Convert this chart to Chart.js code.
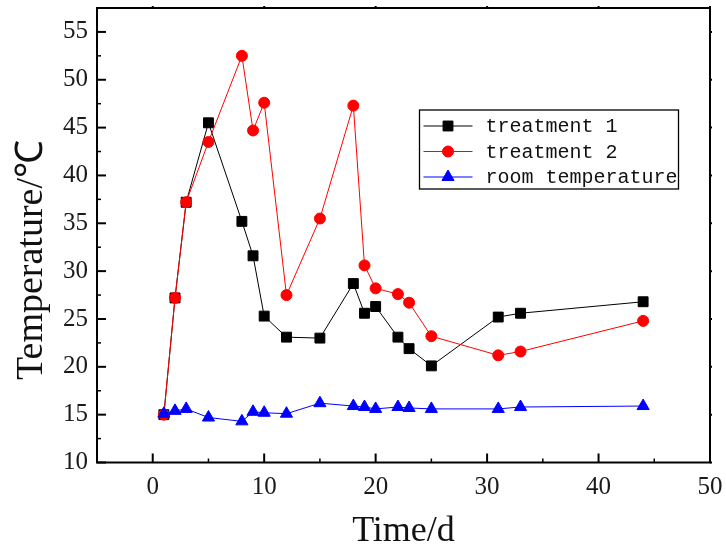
<!DOCTYPE html>
<html>
<head>
<meta charset="utf-8">
<title>Temperature vs time</title>
<script src="https://cdn.jsdelivr.net/npm/chart.js"></script>
<style>
  html, body { margin: 0; padding: 0; background: #ffffff; }
  #wrap { width: 726px; height: 546px; }
</style>
</head>
<body>
<div id="wrap"><canvas id="chart" width="726" height="546"></canvas></div>
<script>
// Sampling days
const days = [1, 2, 3, 5, 8, 9, 10, 12, 15, 18, 19, 20, 22, 23, 25, 31, 33, 44];

// Temperatures (°C) per series
const treatment1 = [15.0, 27.2, 37.2, 45.5, 35.2, 31.6, 25.3, 23.1, 23.0, 28.7, 25.6, 26.3, 23.1, 21.9, 20.1, 25.2, 25.6, 26.8];
const treatment2 = [15.0, 27.2, 37.2, 43.5, 52.5, 44.7, 47.6, 27.5, 35.5, 47.3, 30.6, 28.2, 27.6, 26.7, 23.2, 21.2, 21.6, 24.8];
const roomTemp   = [15.1, 15.4, 15.6, 14.7, 14.3, 15.3, 15.2, 15.1, 16.2, 15.9, 15.8, 15.6, 15.8, 15.7, 15.6, 15.6, 15.8, 15.9];

// Series names
const seriesNames = ['treatment 1', 'treatment 2', 'room temperature'];

// Axis settings
const xTicks = { min: -5, max: 50, step: 10 };
const yTicks = { min: 10, max: 57.5, step: 5 };
const xTitle = 'Time/d';
const yTitle = 'Temperature/\u2103';

const toPoints = (vals) => vals.map((v, i) => ({ x: days[i], y: v }));

const tickFont = { family: '"Liberation Serif", "Times New Roman", serif', size: 25 };

// Inward major/minor tick marks plus the full frame around the plot
const frameAndTicks = {
  id: 'frameAndTicks',
  afterDraw(chart) {
    const { ctx, chartArea: a, scales } = chart;
    const xs = scales.x, ys = scales.y;
    ctx.save();
    ctx.strokeStyle = '#000';
    ctx.lineCap = 'butt';

    // bottom axis ticks (inward), small marks on the top edge
    ctx.lineWidth = 2;
    for (let v = 0; v <= xTicks.max; v += xTicks.step) {
      const px = xs.getPixelForValue(v);
      ctx.beginPath(); ctx.moveTo(px, a.bottom); ctx.lineTo(px, a.bottom - 9); ctx.stroke();
      ctx.beginPath(); ctx.moveTo(px, a.top); ctx.lineTo(px, a.top - 2); ctx.stroke();
    }
    ctx.lineWidth = 1.5;
    for (let v = xTicks.min; v <= xTicks.max; v += xTicks.step / 2) {
      if (v % xTicks.step === 0) continue;
      const px = xs.getPixelForValue(v);
      ctx.beginPath(); ctx.moveTo(px, a.bottom); ctx.lineTo(px, a.bottom - 4); ctx.stroke();
    }

    // left axis ticks (inward), right axis small outward marks
    ctx.lineWidth = 2;
    for (let v = yTicks.min; v <= 55; v += yTicks.step) {
      const py = ys.getPixelForValue(v);
      ctx.beginPath(); ctx.moveTo(a.left, py); ctx.lineTo(a.left + 9, py); ctx.stroke();
      ctx.beginPath(); ctx.moveTo(a.right, py); ctx.lineTo(a.right + 2, py); ctx.stroke();
    }
    ctx.lineWidth = 1.5;
    for (let v = yTicks.min + yTicks.step / 2; v <= yTicks.max; v += yTicks.step) {
      const py = ys.getPixelForValue(v);
      ctx.beginPath(); ctx.moveTo(a.left, py); ctx.lineTo(a.left + 4, py); ctx.stroke();
    }

    // frame
    ctx.lineWidth = 2;
    ctx.strokeRect(a.left, a.top, a.right - a.left, a.bottom - a.top);

    // axis titles
    ctx.fillStyle = '#111';
    ctx.font = '36px "Liberation Serif", "Times New Roman", serif';
    ctx.textAlign = 'center';
    ctx.textBaseline = 'alphabetic';
    ctx.fillText(xTitle, (a.left + a.right) / 2, 541);

    ctx.save();
    ctx.translate(42, a.top + 252);
    ctx.rotate(-Math.PI / 2);
    ctx.font = '38px "Liberation Serif", "Times New Roman", serif';
    ctx.fillText(yTitle, 0, 0);
    ctx.restore();

    ctx.restore();
  }
};

// Boxed legend placed inside the plot
const boxedLegend = {
  id: 'boxedLegend',
  afterDraw(chart) {
    const { ctx, chartArea: a } = chart;
    const left = a.right - 290.5, top = a.top + 102;
    const w = 259, h = 79;
    ctx.save();
    ctx.fillStyle = '#fff';
    ctx.fillRect(left, top, w, h);
    ctx.strokeStyle = '#000';
    ctx.lineWidth = 1.3;
    ctx.strokeRect(left, top, w, h);

    [0, 1, 2].forEach((di, row) => {
      const ds = chart.data.datasets[di];
      const cy = top + 16 + row * 25.5;
      ctx.strokeStyle = ds.borderColor;
      ctx.lineWidth = 1;
      ctx.beginPath(); ctx.moveTo(left + 4, cy); ctx.lineTo(left + 53, cy); ctx.stroke();
      const opts = { pointStyle: ds.pointStyle, radius: ds.pointRadius, rotation: 0, borderWidth: 1 };
      ctx.fillStyle = ds.pointBackgroundColor;
      ctx.strokeStyle = ds.pointBorderColor;
      Chart.helpers.drawPoint(ctx, opts, left + 28.5, cy);
      ctx.fillStyle = '#111';
      ctx.font = '20px "Liberation Mono", "DejaVu Sans Mono", monospace';
      ctx.textAlign = 'left';
      ctx.textBaseline = 'middle';
      ctx.fillText(ds.label, left + 66, cy + 1);
    });
    ctx.restore();
  }
};

new Chart(document.getElementById('chart'), {
  type: 'line',
  data: {
    datasets: [
      {
        label: seriesNames[0],
        data: toPoints(treatment1),
        borderColor: '#000000',
        backgroundColor: '#000000',
        pointBackgroundColor: '#000000',
        pointBorderColor: '#000000',
        pointStyle: 'rect',
        pointRadius: 7,
        borderWidth: 1,
        order: 3
      },
      {
        label: seriesNames[1],
        data: toPoints(treatment2),
        borderColor: '#ff0000',
        backgroundColor: '#ff0000',
        pointBackgroundColor: '#ff0000',
        pointBorderColor: '#ff0000',
        pointStyle: 'circle',
        pointRadius: 5.5,
        borderWidth: 1,
        order: 2
      },
      {
        label: seriesNames[2],
        data: toPoints(roomTemp),
        borderColor: '#0000ff',
        backgroundColor: '#0000ff',
        pointBackgroundColor: '#0000ff',
        pointBorderColor: '#0000ff',
        pointStyle: 'triangle',
        pointRadius: 7,
        borderWidth: 1,
        order: 1
      }
    ]
  },
  options: {
    responsive: false,
    animation: false,
    devicePixelRatio: 1,
    layout: { padding: { top: 7, right: 16, left: 0, bottom: 0 } },
    elements: { line: { tension: 0 } },
    plugins: {
      legend: { display: false },
      tooltip: { enabled: false }
    },
    scales: {
      x: {
        type: 'linear',
        min: xTicks.min,
        max: xTicks.max,
        grid: { display: false, drawTicks: false },
        border: { display: false },
        ticks: {
          stepSize: xTicks.step,
          includeBounds: false,
          font: tickFont,
          color: '#1a1a1a',
          padding: 10,
          maxRotation: 0
        },
        afterFit(scale) {
          scale.height = 83.5;
          scale.paddingLeft = 0;
          scale.paddingRight = 0;
        }
      },
      y: {
        type: 'linear',
        min: yTicks.min,
        max: yTicks.max,
        grid: { display: false, drawTicks: false },
        border: { display: false },
        ticks: {
          stepSize: yTicks.step,
          includeBounds: false,
          font: tickFont,
          color: '#1a1a1a',
          padding: 9
        },
        afterFit(scale) {
          scale.width = 97;
          scale.paddingTop = 0;
          scale.paddingBottom = 0;
        }
      }
    }
  },
  plugins: [frameAndTicks, boxedLegend]
});
</script>
</body>
</html>
